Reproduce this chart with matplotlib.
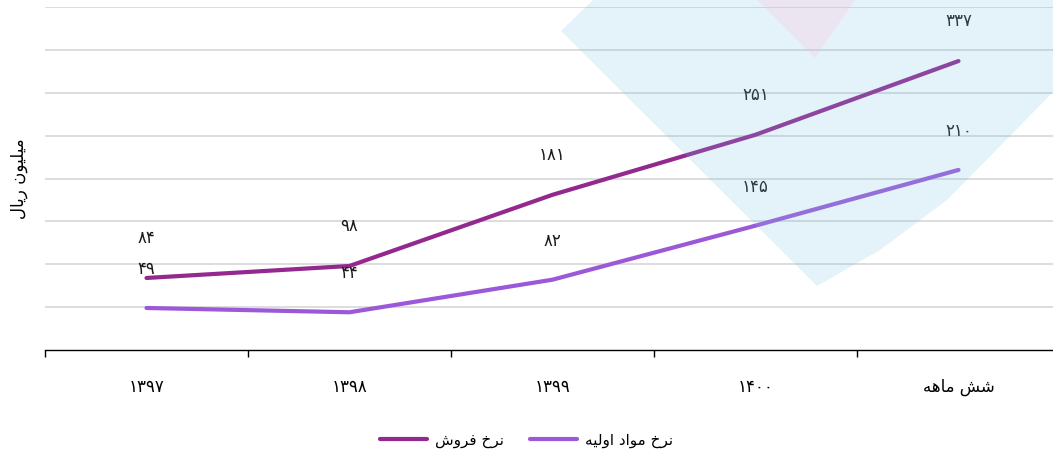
import matplotlib
matplotlib.use("Agg")
import matplotlib.pyplot as plt
from matplotlib.patches import Polygon

# data
categories = ["۱۳۹۷", "۱۳۹۸", "۱۳۹۹", "۱۴۰۰", "شش ماهه"]
sales = [84, 98, 181, 251, 337]
raw = [49, 44, 82, 145, 210]
sales_labels = ["۸۴", "۹۸", "۱۸۱", "۲۵۱", "۳۳۷"]
raw_labels = ["۴۹", "۴۴", "۸۲", "۱۴۵", "۲۱۰"]
sales_name = "نرخ فروش"
raw_name = "نرخ مواد اولیه"
y_title = "میلیون ریال"

# small arabic/persian shaper (matplotlib has no complex text layout)
FORMS = {
    "ا": ("\uFE8D", "\uFE8E", None, None),
    "خ": ("\uFEA5", "\uFEA6", "\uFEA7", "\uFEA8"),
    "د": ("\uFEA9", "\uFEAA", None, None),
    "ر": ("\uFEAD", "\uFEAE", None, None),
    "ش": ("\uFEB5", "\uFEB6", "\uFEB7", "\uFEB8"),
    "ف": ("\uFED1", "\uFED2", "\uFED3", "\uFED4"),
    "ل": ("\uFEDD", "\uFEDE", "\uFEDF", "\uFEE0"),
    "م": ("\uFEE1", "\uFEE2", "\uFEE3", "\uFEE4"),
    "ن": ("\uFEE5", "\uFEE6", "\uFEE7", "\uFEE8"),
    "ه": ("\uFEE9", "\uFEEA", "\uFEEB", "\uFEEC"),
    "و": ("\uFEED", "\uFEEE", None, None),
    "ی": ("\uFBFC", "\uFBFD", "\uFBFE", "\uFBFF"),
}


def shape(s):
    out = []
    for i, c in enumerate(s):
        if c not in FORMS:
            out.append(c)
            continue
        prev = s[i - 1] if i > 0 else ""
        nxt = s[i + 1] if i + 1 < len(s) else ""
        joins_prev = prev in FORMS and FORMS[prev][2] is not None
        joins_next = nxt in FORMS and FORMS[c][2] is not None
        iso, fin, ini, med = FORMS[c]
        if joins_prev and joins_next:
            out.append(med)
        elif joins_prev:
            out.append(fin)
        elif joins_next:
            out.append(ini)
        else:
            out.append(iso)
    return "".join(out)[::-1]


def rtl(s):
    if any(c in FORMS for c in s):
        return shape(s)
    return s


plt.rcParams["font.family"] = ["DejaVu Sans"]

W, H = 1053, 457
fig = plt.figure(figsize=(W / 100, H / 100), dpi=100)
ax = fig.add_axes([45 / W, 1 - 350 / H, 1015 / W, 343 / H])

c_sales = "#93288f"
c_raw = "#9b59d9"
x = list(range(len(categories)))

ax.plot(x, sales, color=c_sales, lw=3.0, solid_capstyle="round",
        solid_joinstyle="round", label=rtl(sales_name), zorder=3)
ax.plot(x, raw, color=c_raw, lw=3.0, solid_capstyle="round",
        solid_joinstyle="round", label=rtl(raw_name), zorder=3)

for xi, v, t in zip(x, sales, sales_labels):
    ax.annotate(t, (xi, v), xytext=(0, 40), textcoords="offset pixels",
                ha="center", va="center", fontsize=12, color="#1a1a1a")
for xi, v, t in zip(x, raw, raw_labels):
    ax.annotate(t, (xi, v), xytext=(0, 39), textcoords="offset pixels",
                ha="center", va="center", fontsize=12, color="#1a1a1a")

ax.set_xlim(-0.5, 4.5)
ax.set_ylim(0, 400)
ax.set_yticks(range(50, 401, 50))
ax.yaxis.grid(True, color="#dadada", lw=1.3)
ax.tick_params(axis="y", length=0, labelleft=False)
ax.set_axisbelow(True)

ax.set_xticks(x)
ax.set_xticklabels([rtl(c) for c in categories], fontsize=12)
ax.tick_params(axis="x", which="major", length=0, pad=20)
ax.set_xticks([i - 0.5 for i in range(len(categories) + 1)], minor=True)
ax.tick_params(axis="x", which="minor", length=5, width=1)
for s in ["top", "right", "left"]:
    ax.spines[s].set_visible(False)
ax.spines["bottom"].set_linewidth(1)

ax.set_ylabel(rtl(y_title), fontsize=12)
ax.yaxis.set_label_coords(-17 / 1015, 0.5)

fig.legend(loc="center", bbox_to_anchor=(0.5, 1 - 440 / H), ncol=2,
           frameon=False, fontsize=11, handlelength=3.1, handletextpad=0.5,
           columnspacing=1.7)


def fpx(pts):
    return [(px / W, 1 - py / H) for px, py in pts]


# background decoration drawn on top, semi-transparent
blue = Polygon(fpx([(593, 0), (561, 31), (817, 286), (880, 250), (947, 200),
                    (1013, 133), (1053, 92), (1053, 0)]),
               closed=True, transform=fig.transFigure, facecolor="#78c3e6",
               edgecolor="none", alpha=0.2, zorder=10)
pink = Polygon(fpx([(757, 0), (855, 0), (815, 58)]), closed=True,
               transform=fig.transFigure, facecolor="#ffbfda",
               edgecolor="none", alpha=0.25, zorder=11)
fig.add_artist(blue)
fig.add_artist(pink)

fig.savefig("out.png", dpi=100)
